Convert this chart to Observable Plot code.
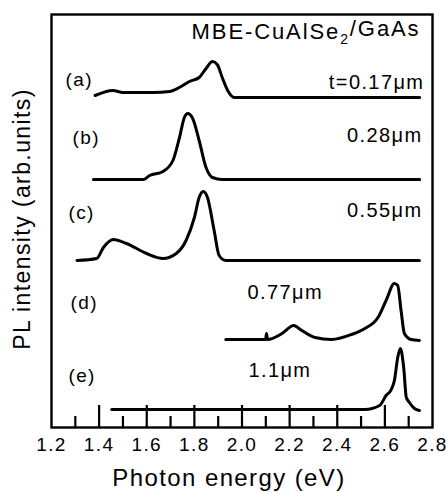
<!DOCTYPE html>
<html><head><meta charset="utf-8">
<script src="https://cdn.jsdelivr.net/npm/d3@7"></script>
<script src="https://cdn.jsdelivr.net/npm/@observablehq/plot@0.6"></script>
<style>
body{margin:0;background:#fff}
#chart svg{font-family:"Liberation Sans",Arial,Helvetica,sans-serif;letter-spacing:1.4px}
</style>
</head><body><div id="chart"></div>
<script>
// PL spectra (photon energy in eV, intensity in arb. units incl. vertical offset)
const energyA = [1.383,1.458,1.50,1.55,1.625,1.696,1.737,1.779,1.82,1.849,1.876,1.896,1.917,1.94,1.967,2.017,2.4,2.746];
const intensityA = [332,337,335,335,335,336,340,346,350,359,366,363,350,337,330,330,330,330];
const energyB = [1.376,1.585,1.6125,1.668,1.71,1.7375,1.758,1.772,1.793,1.82,1.849,1.876,1.917,2.746];
const intensityB = [248,248,252,256,267,290,310,314,309,287,260,250,248,248];
const energyC = [1.307,1.39,1.418,1.46,1.515,1.599,1.668,1.724,1.765,1.80,1.82,1.8375,1.855,1.883,1.904,1.932,2.745];
const intensityC = [167,169,180,188,184,174,169,174,187,210,230,236,230,197,172,167,167];
const energyD = [1.932,2.099,2.103,2.107,2.168,2.217,2.251,2.307,2.376,2.46,2.516,2.571,2.605,2.64,2.654,2.668,2.682,2.71,2.745];
const intensityD = [88,88,94,88,94,102,97,90,88,93,99,110,127,144,142,117,94,88,87];
const energyE = [1.453,2.516,2.578,2.605,2.627,2.64,2.654,2.665,2.679,2.69,2.703,2.724,2.745];
const intensityE = [18,18,22,32,38,47,70,79,60,30,25,19,17];

const seriesKeys = ["a","b","c","d","e"];
const seriesEnergy = [energyA, energyB, energyC, energyD, energyE];
const seriesIntensity = [intensityA, intensityB, intensityC, intensityD, intensityE];

// curve tags and thickness labels (annotation anchors in data coordinates)
const tagText = ["(a)","(b)","(c)","(d)","(e)"];
const tagEnergy = [1.259,1.288,1.271,1.280,1.271];
const tagLevel = [348,290,215,125,52];
const thickRightText = ["t=0.17\u03bcm","0.28\u03bcm","0.55\u03bcm"];
const thickRightEnergy = [2.766,2.758,2.758];
const thickRightLevel = [345,292,217];
const thickLeftText = ["0.77\u03bcm","1.1\u03bcm"];
const thickLeftEnergy = [2.023,2.027];
const thickLeftLevel = [135,57];

const titleText = "MBE-CuAlSe2/GaAs";
const xLabel = "Photon energy (eV)";
const yLabel = "PL intensity (arb.units)";

const majorTicks = [1.2,1.4,1.6,1.8,2.0,2.2,2.4,2.6,2.8];
const minorTicks = [1.3,1.5,1.7,1.9,2.1,2.3,2.5,2.7];
const majorTickLen = 22, minorTickLen = 11;

const rows = seriesKeys.flatMap((k, i) =>
  seriesEnergy[i].map((e, j) => ({series: k, energy: e, intensity: seriesIntensity[i][j]})));
const tags = tagText.map((t, i) => ({t, x: tagEnergy[i], y: tagLevel[i]}));
const thickR = thickRightText.map((t, i) => ({t, x: thickRightEnergy[i], y: thickRightLevel[i]}));
const thickL = thickLeftText.map((t, i) => ({t, x: thickLeftEnergy[i], y: thickLeftLevel[i]}));
const innerMajor = majorTicks.filter(d => d > 1.2 && d < 2.8);

const chart = Plot.plot({
  width: 447, height: 492,
  marginLeft: 51, marginRight: 15, marginTop: 14, marginBottom: 65,
  x: {domain: [1.2, 2.8], axis: null},
  y: {domain: [0, 413], axis: null},
  marks: [
    Plot.frame({stroke: "#000", strokeWidth: 2.4}),
    Plot.ruleX(innerMajor, {x: d => d, y1: 0, y2: majorTickLen, stroke: "#000", strokeWidth: 2.2}),
    Plot.ruleX(minorTicks, {x: d => d, y1: 0, y2: minorTickLen, stroke: "#000", strokeWidth: 2.2}),
    Plot.axisX(majorTicks, {tickSize: 0, tickPadding: 10, tickFormat: d => d.toFixed(1), fontSize: 19, fill: "#000", label: null}),
    Plot.line(rows, {x: "energy", y: "intensity", z: "series", stroke: "#000", strokeWidth: 3, curve: "monotone-x", strokeLinejoin: "round"}),
    Plot.text(tags, {x: "x", y: "y", text: "t", textAnchor: "start", fontSize: 19, fill: "#000"}),
    Plot.text(thickR, {x: "x", y: "y", text: "t", textAnchor: "end", fontSize: 20, fill: "#000"}),
    Plot.text(thickL, {x: "x", y: "y", text: "t", textAnchor: "start", fontSize: 20, fill: "#000"}),
    Plot.text([titleText], {frameAnchor: "top-right", dx: -12, dy: 9, text: d => d, textAnchor: "end", lineAnchor: "top", fontSize: 22, fill: "#000"}),
    Plot.text([xLabel], {frameAnchor: "bottom", dx: -13, dy: 51, text: d => d, lineAnchor: "middle", fontSize: 24, fill: "#000"}),
    Plot.text([yLabel], {frameAnchor: "left", dx: -29, dy: -2, rotate: -90, text: d => d, textAnchor: "middle", lineAnchor: "middle", fontSize: 23, fill: "#000"})
  ]
});
document.getElementById("chart").appendChild(chart);

// subscript the "2" in the title
d3.select(chart).selectAll("text").each(function() {
  if (this.textContent === titleText) {
    const el = d3.select(this).style("letter-spacing", "1.9px");
    el.text(null);
    el.append("tspan").text("MBE-CuAlSe");
    el.append("tspan").attr("font-size", 14).attr("dy", "0.35em").text("2");
    el.append("tspan").attr("dy", "-0.35em").text("/GaAs");
  }
});
</script>
</body></html>
